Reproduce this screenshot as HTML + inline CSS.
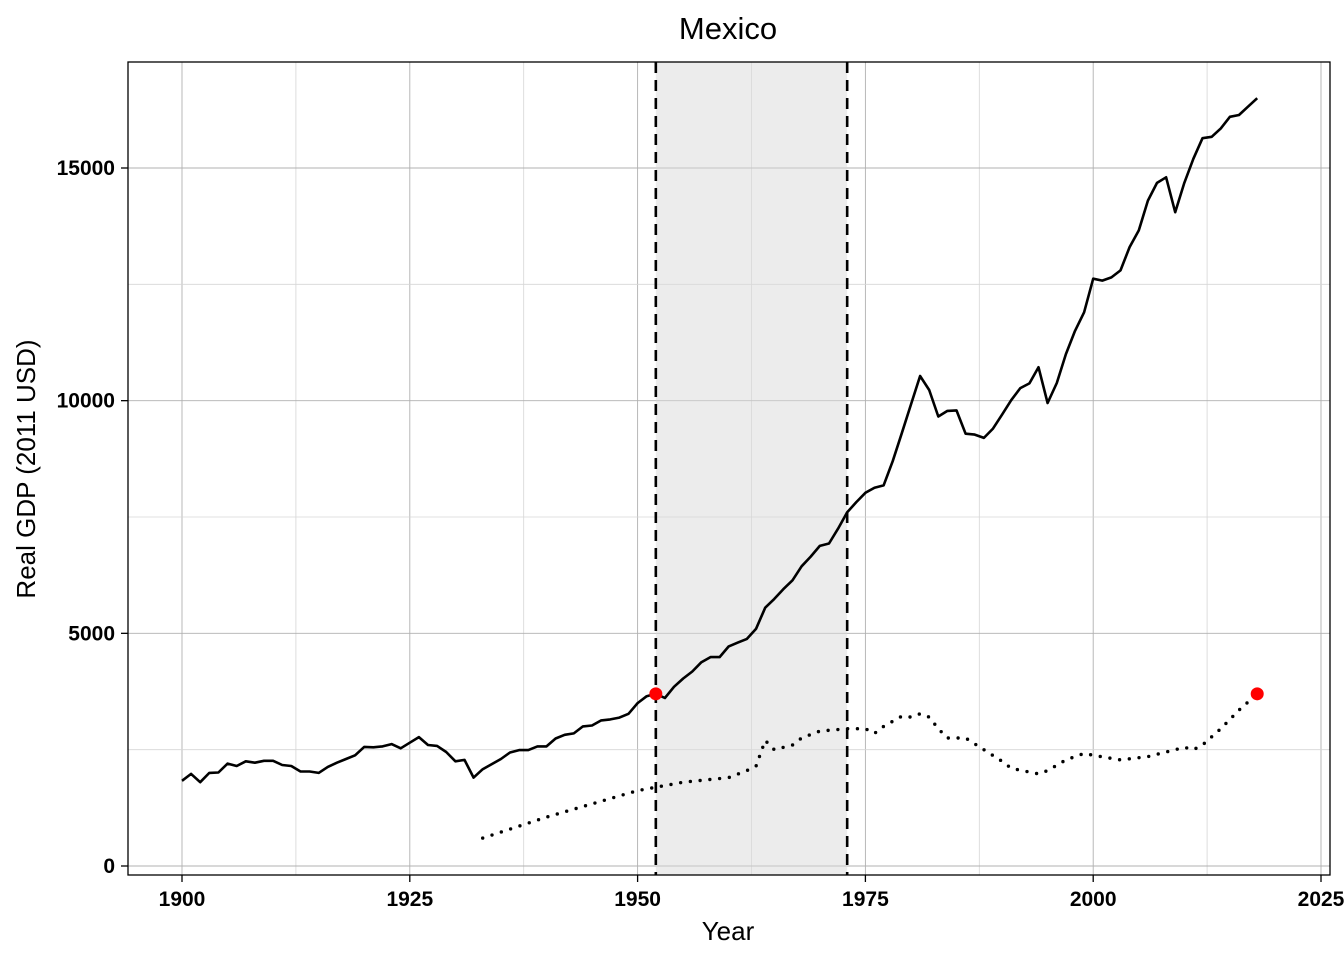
<!DOCTYPE html>
<html><head><meta charset="utf-8"><style>
html,body{margin:0;padding:0;background:#fff;}
svg{display:block;font-family:"Liberation Sans",Arial,sans-serif;}
</style></head><body>
<svg id="chart" width="1344" height="960"></svg>
<script>
const years = [];
for (let y = 1900; y <= 2018; y++) years.push(y);
const gdp = [1830,1980,1800,2000,2010,2200,2150,2250,2220,2260,2260,2170,2150,2030,2030,2000,2130,2220,2300,2380,
2560,2550,2570,2620,2530,2650,2770,2600,2580,2450,2250,2280,1900,2080,2190,2300,2440,2490,2490,2570,
2570,2740,2820,2850,3000,3020,3130,3150,3190,3270,3500,3650,3700,3610,3850,4030,4180,4380,4490,4490,
4720,4800,4880,5100,5550,5740,5950,6140,6440,6650,6880,6930,7250,7600,7820,8020,8130,8180,8700,9300,
9920,10530,10230,9660,9780,9790,9290,9270,9200,9400,9700,10010,10270,10370,10720,9950,10380,11000,11500,11900,
12620,12580,12650,12800,13300,13660,14300,14680,14800,14050,14680,15200,15640,15670,15850,16100,16140,16320,16500];
const dotYears = [1933,1940,1950,1955,1960,1962,1963,1964,1965,1967,1968,1970,1973,1975,1976,1977,1979,1980,1981,1982,1983,1984,1986,1988,1990,1991,1994,1995,1997,1999,2000,2003,2006,2009,2010,2011,2012,2014,2016,2018];
const dotVals = [600,1050,1620,1800,1900,2050,2150,2700,2500,2600,2750,2900,2950,2950,2850,3000,3220,3200,3270,3200,2950,2750,2750,2500,2250,2100,1980,2050,2280,2420,2380,2280,2350,2500,2550,2500,2600,2950,3350,3700];
const xTicks = [1900,1925,1950,1975,2000,2025];
const yTicks = [0,5000,10000,15000];
const shadeRange = [1952,1973];
const markers = [[1952,3700],[2018,3700]];

const NS = "http://www.w3.org/2000/svg";
const svg = document.getElementById('chart');
const L=128,R=1330,T=62,B=875;
const xs = v => 182 + (v-1900)*(1321-182)/125;
const ys = v => 866 - v*(866-168)/15000;
function mk(tag, attrs, parent){ const e=document.createElementNS(NS,tag); for(const k in attrs) e.setAttribute(k,attrs[k]); (parent||svg).appendChild(e); return e; }

const grid = mk('g',{});


for (let i=0;i<xTicks.length;i++){
  mk('line',{x1:xs(xTicks[i]),x2:xs(xTicks[i]),y1:T,y2:B,stroke:'#b0b0b0','stroke-width':0.9},grid);
  if(i<xTicks.length-1){const m=(xTicks[i]+xTicks[i+1])/2; mk('line',{x1:xs(m),x2:xs(m),y1:T,y2:B,stroke:'#d6d6d6','stroke-width':0.8},grid);}
}
for (let i=0;i<yTicks.length;i++){
  mk('line',{x1:L,x2:R,y1:ys(yTicks[i]),y2:ys(yTicks[i]),stroke:'#b0b0b0','stroke-width':0.9},grid);
  const m=yTicks[i]+2500; if(ys(m)>T) mk('line',{x1:L,x2:R,y1:ys(m),y2:ys(m),stroke:'#d6d6d6','stroke-width':0.8},grid);
}
const shade = mk('rect',{x:xs(shadeRange[0]),y:T,width:xs(shadeRange[1])-xs(shadeRange[0]),height:B-T,fill:'#d9d9d9','fill-opacity':0.5});


const line = mk('path',{d:years.map((y,i)=>(i?'L':'M')+xs(y).toFixed(1)+','+ys(gdp[i]).toFixed(1)).join(''),fill:'none',stroke:'#000','stroke-width':2.6,'stroke-linejoin':'round'});


const dl = mk('path',{d:dotYears.map((y,i)=>(i?'L':'M')+xs(y).toFixed(1)+','+ys(dotVals[i]).toFixed(1)).join(''),fill:'none',stroke:'#000','stroke-width':3.4,'stroke-dasharray':'0 9.8','stroke-linecap':'round'});


shadeRange.forEach(v=>{
  const vl = mk('line',{x1:xs(v),x2:xs(v),y1:T,y2:B,stroke:'#000','stroke-width':2.6,'stroke-dasharray':'11 7'});
  
  
});
markers.forEach(m=>{
  const c = mk('circle',{cx:xs(m[0]),cy:ys(m[1]),r:6.5,fill:'#ff0000'});
  
  
});
const fr = mk('rect',{x:L,y:T,width:R-L,height:B-T,fill:'none',stroke:'#000','stroke-width':1.3});


xTicks.forEach(v=>{
  mk('line',{x1:xs(v),x2:xs(v),y1:B,y2:B+7,stroke:'#000','stroke-width':1.3});
  const t = mk('text',{x:xs(v),y:906,'text-anchor':'middle','font-size':21,'font-weight':'bold'});
  t.textContent=v;
  
  
});
yTicks.forEach(v=>{
  mk('line',{x1:L-7,x2:L,y1:ys(v),y2:ys(v),stroke:'#000','stroke-width':1.3});
  const t = mk('text',{x:115,y:ys(v)+7,'text-anchor':'end','font-size':21,'font-weight':'bold'});
  t.textContent=v;
  
  
});
const tt = mk('text',{x:728,y:39,'text-anchor':'middle','font-size':31});
tt.textContent='Mexico';


const xt = mk('text',{x:728,y:940,'text-anchor':'middle','font-size':26});
xt.textContent='Year';


const yt = mk('text',{x:0,y:0,'text-anchor':'middle','font-size':26,transform:'translate(35,469) rotate(-90)'});
yt.textContent='Real GDP (2011 USD)';


</script>
</body></html>
